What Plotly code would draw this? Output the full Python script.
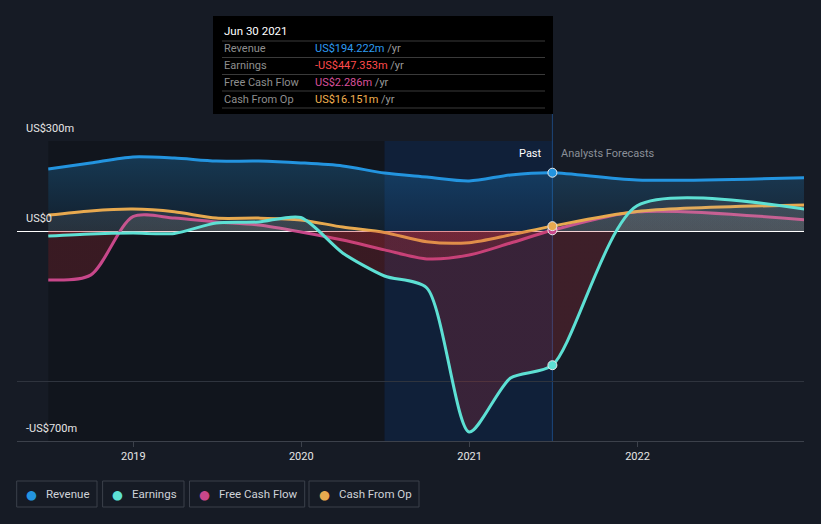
import plotly.graph_objects as go

# ---------------- data ----------------
dates = ["2018-06-30", "2018-09-30", "2018-12-31", "2019-03-31", "2019-06-30",
         "2019-09-30", "2019-12-31", "2020-03-31", "2020-06-30", "2020-09-30",
         "2020-12-31", "2021-03-31", "2021-06-30", "2021-12-31", "2022-12-31"]
revenue = [207, 227, 247, 243, 233, 233, 227, 217, 193, 180, 167, 187, 194.222, 170, 178]
earnings = [-17, -10, -7, -8, 27, 30, 45, -73, -150, -190, -670, -490, -447.353, 84, 73]
free_cash_flow = [-163, -147, 48, 43, 30, 20, -3, -30, -63, -93, -80, -40, 2.286, 64, 37]
cash_from_op = [53, 67, 73, 64, 43, 43, 37, 13, -5, -36, -39, -13, 16.151, 65, 87]

series_names = ["Revenue", "Earnings", "Free Cash Flow", "Cash From Op"]
series_colors = ["#2394df", "#5de0d4", "#c8478a", "#e7a94f"]
series_smoothing = [0.8, 0.72, 0.8, 0.8]
value_colors = ["#2d9bf0", "#ff4b4b", "#d9509b", "#f0b050"]
tooltip_date = "Jun 30 2021"
tooltip_values = ["US$194.222m", "-US$447.353m", "US$2.286m", "US$16.151m"]

x_tick_vals = ["2019-01-01", "2020-01-01", "2021-01-01", "2022-01-01"]
x_tick_text = ["2019", "2020", "2021", "2022"]
y_label_vals = [300, 0, -700]
y_label_text = ["US$300m", "US$0", "-US$700m"]
y_grid_vals = [-500, 300]

past_start = "2018-06-30"
band_start = "2020-06-30"
now_date = "2021-06-30"
x_range = ["2018-04-23", "2022-12-29"]
y_range = [-700, 300]

# ---------------- layout geometry ----------------
W, H = 821, 524
L, R, T, B = 17, 17, 141, 83
PW, PH = W - L - R, H - T - B


def px(x):
    return (x - L) / PW


def py(y):
    return (H - B - y) / PH


BG = "#161b25"
FONT = "Roboto, 'Open Sans', sans-serif"

fig = go.Figure()

# fills with different colour above/below zero
neg_col = "rgba(200,45,55,0.22)"
pos_col = "rgba(190,185,178,0.12)"
zpos = (0 - y_range[0]) / (y_range[1] - y_range[0])
split_scale = [[0, neg_col], [zpos - 0.0005, neg_col], [zpos + 0.0005, pos_col], [1, pos_col]]

series_vals = [revenue, earnings, free_cash_flow, cash_from_op]

fig.add_trace(go.Scatter(
    x=dates, y=revenue, mode="lines", name=series_names[0],
    line=dict(color=series_colors[0], width=3, shape="spline", smoothing=series_smoothing[0]),
    fill="tozeroy",
    fillgradient=dict(type="vertical", start=0, stop=250,
                      colorscale=[[0, "rgba(35,148,223,0.08)"], [1, "rgba(35,148,223,0.28)"]]),
    hoverinfo="skip", showlegend=False))

for i in [2, 3, 1]:
    fig.add_trace(go.Scatter(
        x=dates, y=series_vals[i], mode="lines", name=series_names[i],
        line=dict(color=series_colors[i], width=3, shape="spline", smoothing=series_smoothing[i]),
        fill="tozeroy",
        fillgradient=dict(type="vertical", start=y_range[0], stop=y_range[1],
                          colorscale=split_scale),
        hoverinfo="skip", showlegend=False))

# markers at the current point
now_idx = dates.index(now_date)
for i in [0, 2, 3, 1]:
    fig.add_trace(go.Scatter(
        x=[dates[now_idx]], y=[series_vals[i][now_idx]], mode="markers",
        marker=dict(color=series_colors[i], size=9, line=dict(color="#e8e8e8", width=1)),
        hoverinfo="skip", showlegend=False))

shapes = []
# darker past region and highlighted last year band
shapes.append(dict(type="rect", xref="x", yref="paper", x0=past_start, x1=now_date,
                   y0=0, y1=1, fillcolor="rgba(0,0,0,0.2)", line=dict(width=0), layer="below"))
shapes.append(dict(type="rect", xref="x", yref="paper", x0=band_start, x1=now_date,
                   y0=0, y1=1, fillcolor="rgba(17,80,170,0.2)", line=dict(width=0), layer="below"))
# hover line
shapes.append(dict(type="line", xref="x", yref="paper", x0=now_date, x1=now_date,
                   y0=0, y1=py(114), line=dict(color="rgba(35,105,190,0.55)", width=1), layer="below"))

# tooltip box
shapes.append(dict(type="rect", xref="paper", yref="paper", x0=px(213), x1=px(553),
                   y0=py(114), y1=py(16), fillcolor="#000000", line=dict(width=0)))
for sy in [41, 57.5, 74.5, 91, 108]:
    shapes.append(dict(type="line", xref="paper", yref="paper", x0=px(222), x1=px(545),
                       y0=py(sy), y1=py(sy), line=dict(color="#3a3a3a", width=1)))

annotations = []
annotations.append(dict(xref="paper", yref="paper", x=px(222), y=py(31), text=tooltip_date,
                        showarrow=False, xanchor="left", yanchor="middle",
                        font=dict(color="#ffffff", size=11.5, family=FONT)))
row_y = [48.5, 65.5, 82.5, 99.5]
for i in range(4):
    annotations.append(dict(xref="paper", yref="paper", x=px(222), y=py(row_y[i]),
                            text=series_names[i], showarrow=False, xanchor="left", yanchor="middle",
                            font=dict(color="#8e8e8e", size=11, family=FONT)))
    annotations.append(dict(xref="paper", yref="paper", x=px(313), y=py(row_y[i]),
                            text=f"<span style='color:{value_colors[i]}'>{tooltip_values[i]}</span> /yr",
                            showarrow=False, xanchor="left", yanchor="middle",
                            font=dict(color="#9a9a9a", size=11, family=FONT)))

# y labels
for v, t in zip(y_label_vals, y_label_text):
    annotations.append(dict(xref="paper", yref="y", x=px(24), y=v, text=t, showarrow=False,
                            xanchor="left", yanchor="bottom", yshift=4,
                            font=dict(color="#e6e6e6", size=11, family=FONT)))

# Past / Analysts Forecasts
annotations.append(dict(xref="x", yref="paper", x=now_date, y=py(153), text="Past",
                        showarrow=False, xanchor="right", yanchor="middle", xshift=-8,
                        font=dict(color="#ffffff", size=11, family=FONT)))
annotations.append(dict(xref="x", yref="paper", x=now_date, y=py(153), text="Analysts Forecasts",
                        showarrow=False, xanchor="left", yanchor="middle", xshift=7,
                        font=dict(color="#8a8f98", size=11, family=FONT)))

# custom legend boxes
box_x = [(16.7, 97), (102.6, 184), (189.5, 304.7), (309, 419)]
dot_x = [31.4, 117.8, 204.7, 324.6]
text_x = [44, 129.8, 216.8, 336.6]
for i in range(4):
    shapes.append(dict(type="rect", xref="paper", yref="paper", x0=px(box_x[i][0]), x1=px(box_x[i][1]),
                       y0=py(507), y1=py(481), line=dict(color="#3b404b", width=1),
                       fillcolor="rgba(0,0,0,0)"))
    annotations.append(dict(xref="paper", yref="paper", x=px(dot_x[i]), y=py(494), text="●",
                            showarrow=False, xanchor="center", yanchor="middle",
                            font=dict(color=series_colors[i], size=12.5, family="DejaVu Sans")))
    annotations.append(dict(xref="paper", yref="paper", x=px(text_x[i]), y=py(494),
                            text=series_names[i], showarrow=False, xanchor="left", yanchor="middle",
                            font=dict(color="#cfd2d8", size=11.5, family=FONT)))

fig.update_layout(
    width=W, height=H,
    margin=dict(l=L, r=R, t=T, b=B, pad=0),
    paper_bgcolor=BG, plot_bgcolor=BG,
    showlegend=False,
    shapes=shapes, annotations=annotations,
    xaxis=dict(type="date", range=x_range, showgrid=False, showline=True, linecolor="#3c414b",
               linewidth=1, ticks="outside", ticklen=5, tickcolor="#3c414b",
               tickvals=x_tick_vals, ticktext=x_tick_text, zeroline=False,
               tickfont=dict(color="#e6e6e6", size=11, family=FONT), fixedrange=True),
    yaxis=dict(range=y_range, tickvals=y_grid_vals, showticklabels=False, showgrid=True,
               gridcolor="#2f343e", gridwidth=1, zeroline=True, zerolinecolor="#ffffff",
               zerolinewidth=1, showline=False, fixedrange=True),
)

fig.write_html(
    "out.html",
    config={"displayModeBar": False},
    post_script="document.body.style.margin='0';document.body.style.background='" + BG + "';"
                "document.documentElement.style.background='" + BG + "';",
)
